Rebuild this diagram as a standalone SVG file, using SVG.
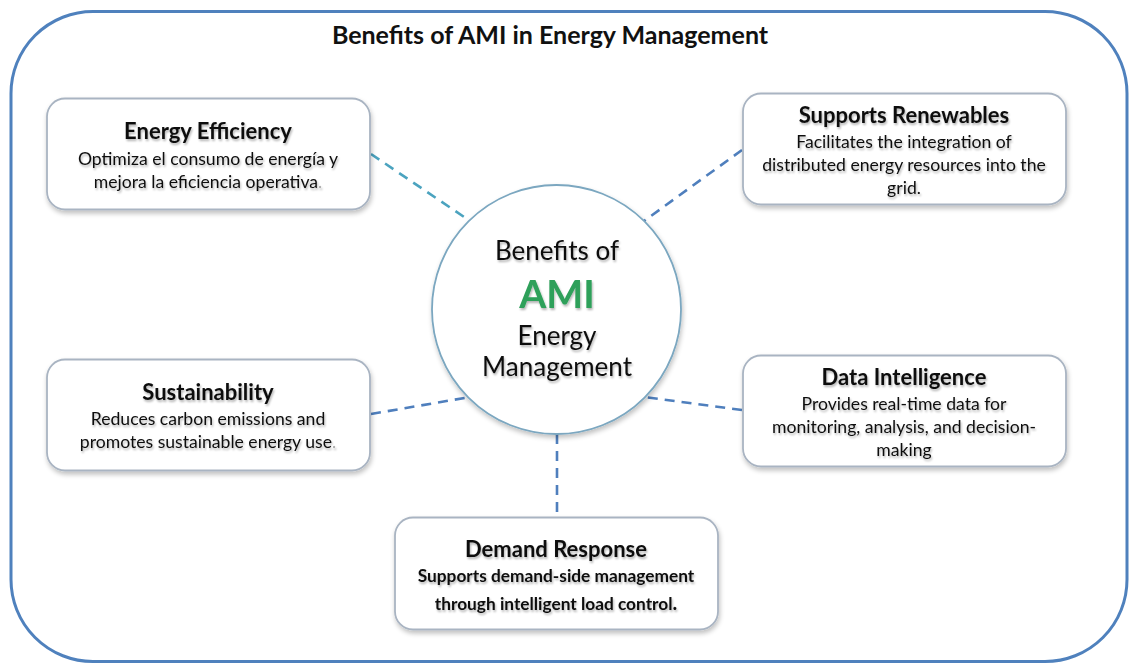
<svg xmlns="http://www.w3.org/2000/svg" width="1137" height="671" viewBox="0 0 1137 671">
<defs>
<filter id="sh" x="-10%" y="-10%" width="120%" height="130%">
<feGaussianBlur in="SourceAlpha" stdDeviation="2.5"/>
<feOffset dx="1" dy="3" result="b"/>
<feComponentTransfer><feFuncA type="linear" slope="0.25"/></feComponentTransfer>
<feMerge><feMergeNode/><feMergeNode in="SourceGraphic"/></feMerge>
</filter>
<filter id="tsh" x="-5%" y="-20%" width="110%" height="150%">
<feGaussianBlur in="SourceAlpha" stdDeviation="1"/>
<feOffset dx="1" dy="1.5" result="b"/>
<feComponentTransfer><feFuncA type="linear" slope="0.3"/></feComponentTransfer>
<feMerge><feMergeNode/><feMergeNode in="SourceGraphic"/></feMerge>
</filter>
</defs>
<style>
text{font-family:Lato,"Open Sans","Liberation Sans",sans-serif;fill:#111;text-anchor:middle}
.t{font-weight:bold;font-size:22px}
.d{font-size:17.6px}
.db{font-size:17.3px;font-weight:bold}
.box{fill:#fff;stroke:#a9b4c2;stroke-width:1.8}
.c1{stroke:#4ba3bf;stroke-width:2.6;stroke-dasharray:10 7;fill:none}
.c2{stroke:#4f7fbd;stroke-width:2.6;stroke-dasharray:10 7;fill:none}
</style>
<rect width="1137" height="671" fill="#fff"/>
<rect x="11" y="11.5" width="1116" height="650" rx="82" ry="82" fill="#fff" stroke="#4f81bd" stroke-width="3"/>
<text x="550" y="44" style="font-weight:bold;font-size:25px">Benefits of AMI in Energy Management</text>
<g id="connectors">
<line class="c1" x1="371" y1="154" x2="470" y2="221"/>
<line class="c2" x1="742" y1="150" x2="644" y2="221"/>
<line class="c2" x1="371" y1="414" x2="470" y2="397"/>
<line class="c2" x1="742" y1="410" x2="644" y2="397"/>
<line class="c2" x1="557" y1="434" x2="557" y2="516"/>
</g>
<g id="center">
<circle cx="556.5" cy="309.5" r="124.5" fill="#fff" stroke="#7ba7c0" stroke-width="1.8" filter="url(#sh)"/>
<g filter="url(#tsh)">
<text x="557" y="260" style="font-size:26px">Benefits of</text>
<text x="557" y="308" style="font-size:39px;font-weight:bold;fill:#2ea05a">AMI</text>
<text x="557" y="345" style="font-size:26px">Energy</text>
<text x="557" y="376" style="font-size:26px">Management</text>
</g>
</g>
<g id="energy-efficiency">
<rect class="box" x="47" y="98.5" width="323" height="111" rx="18" filter="url(#sh)"/>
<g filter="url(#tsh)">
<text class="t" x="208" y="139">Energy Efficiency</text>
<text class="d" x="208" y="165">Optimiza el consumo de energía y</text>
<text class="d" x="208" y="188">mejora la eficiencia operativa<tspan style="fill:#aaa">.</tspan></text>
</g>
</g>
<g id="supports-renewables">
<rect class="box" x="743" y="93.5" width="323" height="111" rx="18" filter="url(#sh)"/>
<g filter="url(#tsh)">
<text class="t" x="904" y="123">Supports Renewables</text>
<text class="d" x="904" y="148">Facilitates the integration of</text>
<text class="d" x="904" y="171">distributed energy resources into the</text>
<text class="d" x="904" y="194">grid.</text>
</g>
</g>
<g id="sustainability">
<rect class="box" x="47" y="359.5" width="323" height="111" rx="18" filter="url(#sh)"/>
<g filter="url(#tsh)">
<text class="t" x="208" y="400">Sustainability</text>
<text class="d" x="208" y="425">Reduces carbon emissions and</text>
<text class="d" x="208" y="448">promotes sustainable energy use<tspan style="fill:#aaa">.</tspan></text>
</g>
</g>
<g id="data-intelligence">
<rect class="box" x="743" y="355.5" width="323" height="111" rx="18" filter="url(#sh)"/>
<g filter="url(#tsh)">
<text class="t" x="904" y="385">Data Intelligence</text>
<text class="d" x="904" y="410">Provides real-time data for</text>
<text class="d" x="904" y="433">monitoring, analysis, and decision-</text>
<text class="d" x="904" y="456">making</text>
</g>
</g>
<g id="demand-response">
<rect class="box" x="395" y="517.5" width="323" height="112" rx="18" filter="url(#sh)"/>
<g filter="url(#tsh)">
<text class="t" x="556" y="557">Demand Response</text>
<text class="db" x="556" y="582">Supports demand-side management</text>
<text class="db" x="556" y="610">through intelligent load control<tspan style="font-size:20px">.</tspan></text>
</g>
</g>
</svg>
